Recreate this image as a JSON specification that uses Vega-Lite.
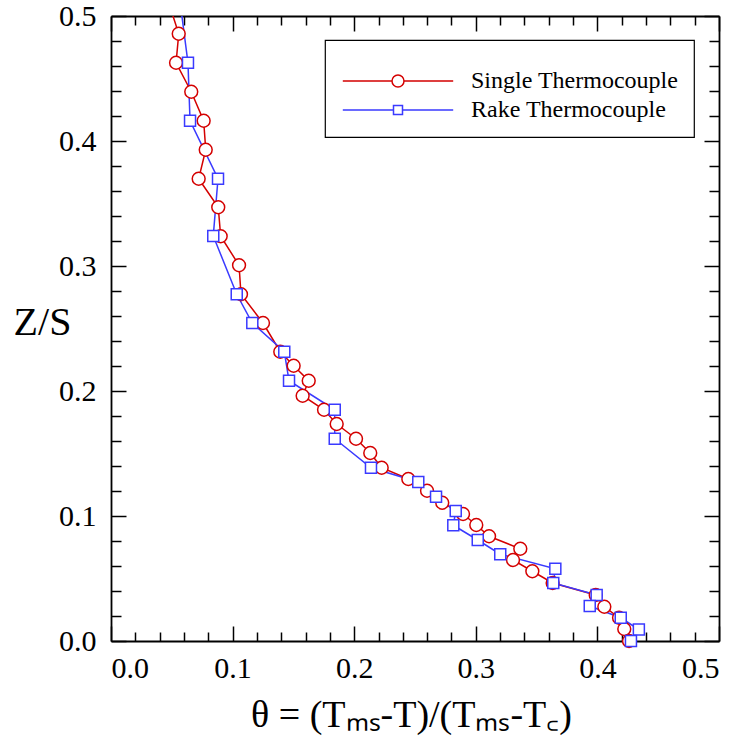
{
  "$schema": "https://vega.github.io/schema/vega-lite/v6.json",
  "autosize": {"type": "none"},
  "padding": {"left": 111, "top": 16, "right": 22, "bottom": 101},
  "width": 608,
  "height": 625,
  "config": {
    "view": {"stroke": null},
    "font": "Liberation Serif",
    "axis": {"domainColor": "black", "domainWidth": 1.8, "tickColor": "black", "tickWidth": 1.5, "grid": false, "labelFont": "Liberation Serif", "titleFont": "Liberation Serif", "labelColor": "black", "titleColor": "black", "titleFontWeight": "normal"},
    "legend": {"labelFont": "Liberation Serif"}
  },
  "data": {"values": [
    {"s": "Single Thermocouple", "i": 0, "theta": 0.048, "zs": 0.509},
    {"s": "Single Thermocouple", "i": 1, "theta": 0.0557, "zs": 0.4858},
    {"s": "Single Thermocouple", "i": 2, "theta": 0.0535, "zs": 0.4626},
    {"s": "Single Thermocouple", "i": 3, "theta": 0.0660, "zs": 0.4394},
    {"s": "Single Thermocouple", "i": 4, "theta": 0.0762, "zs": 0.4162},
    {"s": "Single Thermocouple", "i": 5, "theta": 0.0779, "zs": 0.3930},
    {"s": "Single Thermocouple", "i": 6, "theta": 0.0721, "zs": 0.3698},
    {"s": "Single Thermocouple", "i": 7, "theta": 0.0882, "zs": 0.3470},
    {"s": "Single Thermocouple", "i": 8, "theta": 0.0902, "zs": 0.3238},
    {"s": "Single Thermocouple", "i": 9, "theta": 0.1053, "zs": 0.3006},
    {"s": "Single Thermocouple", "i": 10, "theta": 0.1069, "zs": 0.2774},
    {"s": "Single Thermocouple", "i": 11, "theta": 0.1250, "zs": 0.2544},
    {"s": "Single Thermocouple", "i": 12, "theta": 0.1392, "zs": 0.2314},
    {"s": "Single Thermocouple", "i": 13, "theta": 0.1502, "zs": 0.2202},
    {"s": "Single Thermocouple", "i": 14, "theta": 0.1626, "zs": 0.2082},
    {"s": "Single Thermocouple", "i": 15, "theta": 0.1576, "zs": 0.1962},
    {"s": "Single Thermocouple", "i": 16, "theta": 0.1752, "zs": 0.1850},
    {"s": "Single Thermocouple", "i": 17, "theta": 0.1856, "zs": 0.1736},
    {"s": "Single Thermocouple", "i": 18, "theta": 0.2015, "zs": 0.1618},
    {"s": "Single Thermocouple", "i": 19, "theta": 0.2132, "zs": 0.1504},
    {"s": "Single Thermocouple", "i": 20, "theta": 0.2226, "zs": 0.1386},
    {"s": "Single Thermocouple", "i": 21, "theta": 0.2445, "zs": 0.1296},
    {"s": "Single Thermocouple", "i": 22, "theta": 0.2599, "zs": 0.1202},
    {"s": "Single Thermocouple", "i": 23, "theta": 0.2724, "zs": 0.1106},
    {"s": "Single Thermocouple", "i": 24, "theta": 0.2895, "zs": 0.1016},
    {"s": "Single Thermocouple", "i": 25, "theta": 0.3004, "zs": 0.0928},
    {"s": "Single Thermocouple", "i": 26, "theta": 0.3109, "zs": 0.0838},
    {"s": "Single Thermocouple", "i": 27, "theta": 0.3366, "zs": 0.0738},
    {"s": "Single Thermocouple", "i": 28, "theta": 0.3306, "zs": 0.0648},
    {"s": "Single Thermocouple", "i": 29, "theta": 0.3465, "zs": 0.0558},
    {"s": "Single Thermocouple", "i": 30, "theta": 0.3632, "zs": 0.0464},
    {"s": "Single Thermocouple", "i": 31, "theta": 0.3986, "zs": 0.0368},
    {"s": "Single Thermocouple", "i": 32, "theta": 0.4057, "zs": 0.0274},
    {"s": "Single Thermocouple", "i": 33, "theta": 0.4178, "zs": 0.0186},
    {"s": "Single Thermocouple", "i": 34, "theta": 0.4221, "zs": 0.0096},
    {"s": "Single Thermocouple", "i": 35, "theta": 0.4260, "zs": 0.0},
    {"s": "Rake Thermocouple", "i": 0, "theta": 0.0571, "zs": 0.509},
    {"s": "Rake Thermocouple", "i": 1, "theta": 0.0633, "zs": 0.4626},
    {"s": "Rake Thermocouple", "i": 2, "theta": 0.0650, "zs": 0.4162},
    {"s": "Rake Thermocouple", "i": 3, "theta": 0.0880, "zs": 0.3698},
    {"s": "Rake Thermocouple", "i": 4, "theta": 0.0841, "zs": 0.3240},
    {"s": "Rake Thermocouple", "i": 5, "theta": 0.1034, "zs": 0.2774},
    {"s": "Rake Thermocouple", "i": 6, "theta": 0.1162, "zs": 0.2544},
    {"s": "Rake Thermocouple", "i": 7, "theta": 0.1425, "zs": 0.2314},
    {"s": "Rake Thermocouple", "i": 8, "theta": 0.1464, "zs": 0.2082},
    {"s": "Rake Thermocouple", "i": 9, "theta": 0.1840, "zs": 0.1850},
    {"s": "Rake Thermocouple", "i": 10, "theta": 0.1840, "zs": 0.1618},
    {"s": "Rake Thermocouple", "i": 11, "theta": 0.2138, "zs": 0.1386},
    {"s": "Rake Thermocouple", "i": 12, "theta": 0.2527, "zs": 0.1272},
    {"s": "Rake Thermocouple", "i": 13, "theta": 0.2673, "zs": 0.1154},
    {"s": "Rake Thermocouple", "i": 14, "theta": 0.2835, "zs": 0.1040},
    {"s": "Rake Thermocouple", "i": 15, "theta": 0.2815, "zs": 0.0926},
    {"s": "Rake Thermocouple", "i": 16, "theta": 0.3016, "zs": 0.0808},
    {"s": "Rake Thermocouple", "i": 17, "theta": 0.3201, "zs": 0.0694},
    {"s": "Rake Thermocouple", "i": 18, "theta": 0.3654, "zs": 0.0578},
    {"s": "Rake Thermocouple", "i": 19, "theta": 0.3637, "zs": 0.0464},
    {"s": "Rake Thermocouple", "i": 20, "theta": 0.3994, "zs": 0.0368},
    {"s": "Rake Thermocouple", "i": 21, "theta": 0.3937, "zs": 0.0280},
    {"s": "Rake Thermocouple", "i": 22, "theta": 0.4192, "zs": 0.0186},
    {"s": "Rake Thermocouple", "i": 23, "theta": 0.4341, "zs": 0.0092},
    {"s": "Rake Thermocouple", "i": 24, "theta": 0.4276, "zs": 0.0}
  ]},
  "resolve": {"axis": {"x": "independent", "y": "independent"}},
  "layer": [
    {
      "mark": {"type": "line", "clip": true, "strokeWidth": 1.5},
      "encoding": {
        "x": {"field": "theta", "type": "quantitative", "scale": {"domain": [0, 0.5], "nice": false, "zero": false},
          "axis": {"orient": "bottom", "values": [0, 0.1, 0.2, 0.3, 0.4, 0.5], "format": ".1f", "tickSize": -15, "labelFont": "Liberation Serif", "labelFontSize": 30, "labelPadding": 27,
            "title": "θ = (Tₘₛ-T)/(Tₘₛ-T꜀)", "titleFontSize": 38, "titleBaseline": "alphabetic", "titleAlign": "center", "titleX": 300, "titleY": 85}},
        "y": {"field": "zs", "type": "quantitative", "scale": {"domain": [0, 0.5], "nice": false, "zero": false},
          "axis": {"orient": "left", "values": [0, 0.1, 0.2, 0.3, 0.4, 0.5], "format": ".1f", "tickSize": -15, "labelFont": "Liberation Serif", "labelFontSize": 30, "labelPadding": 30,
            "title": "Z/S", "titleFontSize": 40, "titleAngle": 0, "titleAlign": "center", "titleBaseline": "middle", "titleX": -69, "titleY": 306}},
        "color": {"field": "s", "type": "nominal",
          "scale": {"domain": ["Single Thermocouple", "Rake Thermocouple"], "range": ["#d40000", "#3a3aff"]},
          "legend": {"orient": "none", "legendX": 214, "legendY": 24, "title": " ", "titleFontSize": 4, "titlePadding": 10, "strokeColor": "black", "fillColor": "white",
            "padding": 15, "labelFont": "Liberation Serif", "labelFontSize": 24, "labelColor": "black", "labelLimit": 0, "symbolSize": 144, "symbolOffset": 46, "labelOffset": 61, "rowPadding": 5, "symbolStrokeWidth": 1.5,
            "encode": {
              "legend": {"update": {"strokeWidth": {"value": 1.2}}},
              "symbols": {"update": {
              "shape": {"signal": "datum.value === 'Single Thermocouple' ? 'M-9.2,0H-1A1,1,0,1,1,1,0H9.2M1,0A1,1,0,1,1,-1,0' : 'M-9.2,0H-0.75M0.75,0H9.2M-0.75,-0.75H0.75V0.75H-0.75Z'"},
              "fill": {"value": "transparent"}}}}}},
        "order": {"field": "i", "type": "quantitative"}
      }
    },
    {
      "transform": [{"filter": "datum.s === 'Single Thermocouple' && datum.zs <= 0.5"}],
      "mark": {"type": "point", "shape": "circle", "filled": false, "fill": "white", "fillOpacity": 1, "opacity": 1, "strokeWidth": 1.5, "size": 165},
      "encoding": {
        "x": {"field": "theta", "type": "quantitative", "axis": null},
        "y": {"field": "zs", "type": "quantitative", "axis": null},
        "color": {"field": "s", "type": "nominal", "legend": null}
      }
    },
    {
      "transform": [{"filter": "datum.s === 'Rake Thermocouple' && datum.zs <= 0.5"}],
      "mark": {"type": "point", "shape": "square", "filled": false, "fill": "white", "fillOpacity": 1, "opacity": 1, "strokeWidth": 1.5, "size": 121},
      "encoding": {
        "x": {"field": "theta", "type": "quantitative", "axis": null},
        "y": {"field": "zs", "type": "quantitative", "axis": null},
        "color": {"field": "s", "type": "nominal", "legend": null}
      }
    },
    {
      "mark": {"type": "point", "opacity": 0},
      "encoding": {
        "x": {"field": "theta", "type": "quantitative", "axis": {"orient": "bottom", "values": [0.02,0.04,0.06,0.08,0.12,0.14,0.16,0.18,0.22,0.24,0.26,0.28,0.32,0.34,0.36,0.38,0.42,0.44,0.46,0.48], "tickSize": -9, "labels": false, "title": null, "domain": false}},
        "y": {"field": "zs", "type": "quantitative", "axis": {"orient": "left", "values": [0.02,0.04,0.06,0.08,0.12,0.14,0.16,0.18,0.22,0.24,0.26,0.28,0.32,0.34,0.36,0.38,0.42,0.44,0.46,0.48], "tickSize": -10, "labels": false, "title": null, "domain": false}}
      }
    },
    {
      "mark": {"type": "point", "opacity": 0},
      "encoding": {
        "x": {"field": "theta", "type": "quantitative", "axis": {"orient": "top", "values": [0, 0.1, 0.2, 0.3, 0.4, 0.5], "tickSize": -15, "labels": false, "title": null}},
        "y": {"field": "zs", "type": "quantitative", "axis": {"orient": "right", "values": [0, 0.1, 0.2, 0.3, 0.4, 0.5], "tickSize": -15, "labels": false, "title": null}}
      }
    },
    {
      "mark": {"type": "point", "opacity": 0},
      "encoding": {
        "x": {"field": "theta", "type": "quantitative", "axis": {"orient": "top", "values": [0.02,0.04,0.06,0.08,0.12,0.14,0.16,0.18,0.22,0.24,0.26,0.28,0.32,0.34,0.36,0.38,0.42,0.44,0.46,0.48], "tickSize": -9, "labels": false, "title": null, "domain": false}},
        "y": {"field": "zs", "type": "quantitative", "axis": {"orient": "right", "values": [0.02,0.04,0.06,0.08,0.12,0.14,0.16,0.18,0.22,0.24,0.26,0.28,0.32,0.34,0.36,0.38,0.42,0.44,0.46,0.48], "tickSize": -10, "labels": false, "title": null, "domain": false}}
      }
    }
  ]
}
